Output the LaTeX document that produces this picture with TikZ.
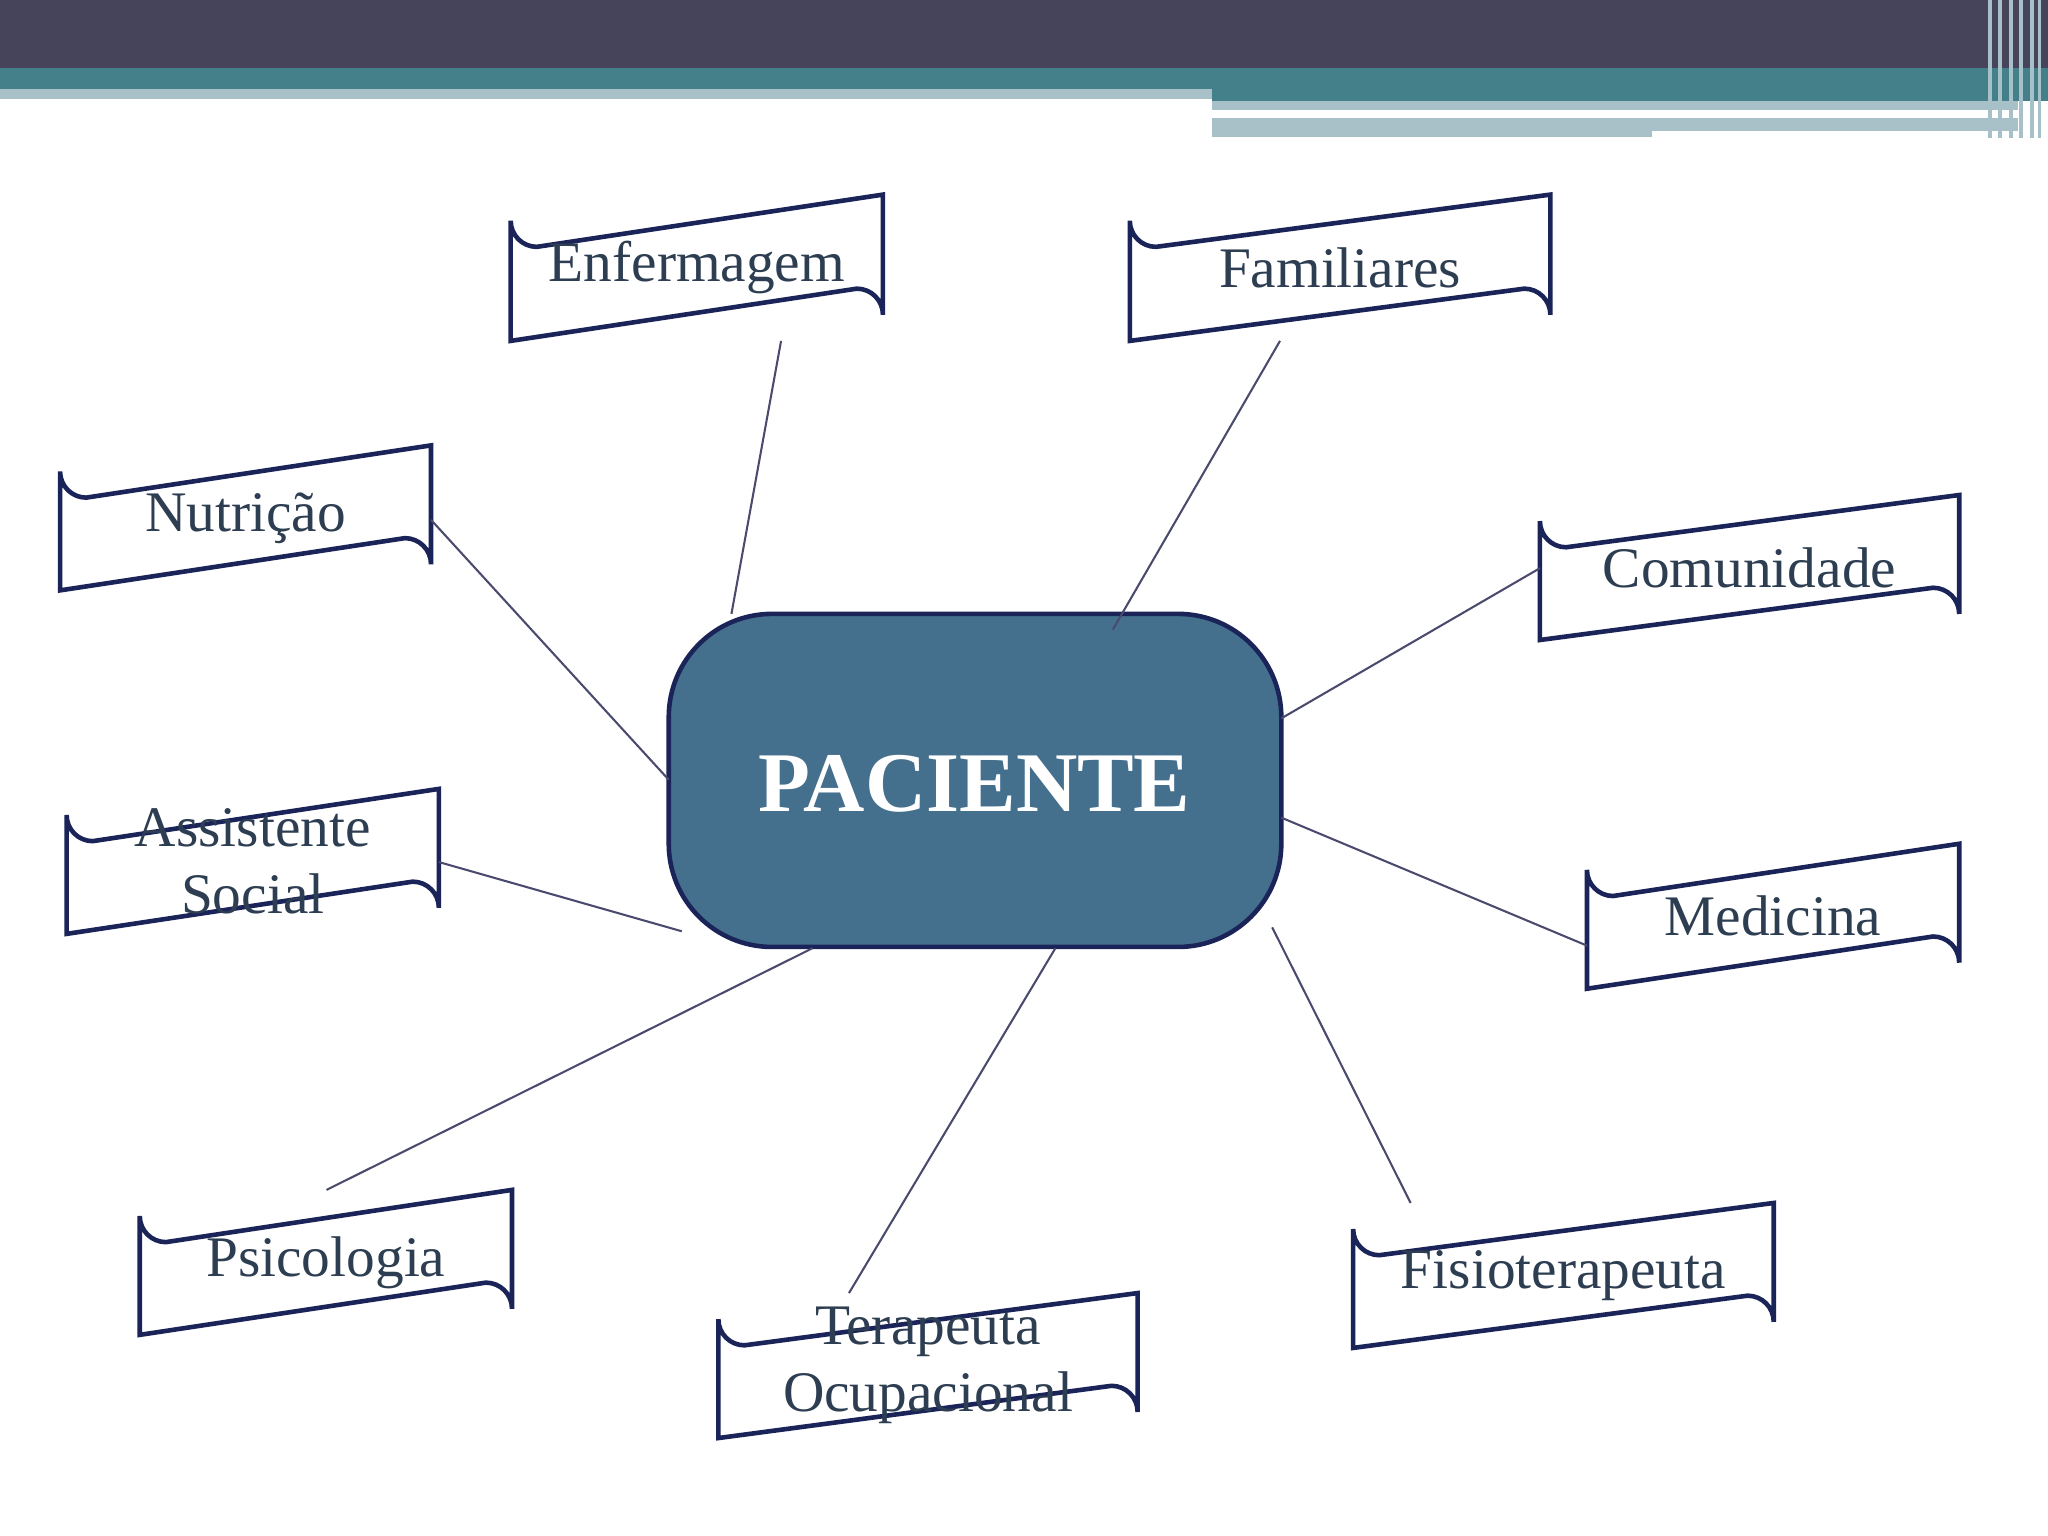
\documentclass[tikz,border=0pt]{standalone}
\usepackage{fontspec}
\setmainfont{Liberation Serif}
\definecolor{hdark}{HTML}{45445A}
\definecolor{hteal}{HTML}{44808A}
\definecolor{hlight}{HTML}{A8C0C8}
\definecolor{bord}{HTML}{1B2458}
\definecolor{txt}{HTML}{2E3E52}
\definecolor{pac}{HTML}{44708E}
\definecolor{lnk}{HTML}{4A4A6E}
\tikzset{
  lbl/.style={text=txt,font=\fontsize{25}{29}\selectfont,align=center,inner sep=0pt},
  link/.style={draw=lnk,line width=0.9pt},
  boxline/.style={draw=bord,line width=2pt}
}
\newcommand{\bx}[6]{%
  \draw[boxline] (#2,#5) -- (#2,#3+20) arc[start angle=180,end angle=90,radius=20] -- (#4,#3) -- (#4,#5-20) arc[start angle=0,end angle=-90,radius=20] -- cycle;
  \node[lbl] (#1) at ({(#2+#4)/2},{(#3+#5)/2}) {#6};}
\begin{document}
\begin{tikzpicture}[x=0.02cm,y=-0.02cm]
\useasboundingbox (0,0) rectangle (1568,1176);
\fill[white] (0,0) rectangle (1568,1176);
% header
\fill[hdark] (0,0) rectangle (1568,52);
\fill[hteal] (0,52) rectangle (1568,68);
\fill[hlight] (0,68) rectangle (928,76);
\fill[hteal] (928,68) rectangle (1568,77);
\fill[hlight] (928,77) rectangle (1545,84);
\fill[hlight] (928,90) rectangle (1545,105);
\fill[white] (1265,100) rectangle (1545,106);
\foreach \x in {1522,1530,1538,1546,1554,1560}{\fill[hlight] (\x,0) rectangle (\x+3,106);}
% center
\draw[draw=bord,line width=2pt,fill=pac,rounded corners=45] (512,470) rectangle (981,725);
\node[text=white,font=\bfseries\fontsize{37}{40}\selectfont] (pc) at (746,600) {PACIENTE};
% boxes
\bx{enf}{391}{149}{676}{261}{Enfermagem}
\bx{fam}{865}{149}{1187}{261}{Familiares}
\bx{nut}{46}{341}{330}{452}{Nutrição}
\bx{com}{1179}{379}{1500}{490}{Comunidade}
\bx{ass}{51}{604}{336}{715}{Assistente\\Social}
\bx{med}{1215}{646}{1500}{757}{Medicina}
\bx{psi}{107}{911}{392}{1022}{Psicologia}
\bx{ter}{550}{990}{871}{1101}{Terapeuta\\Ocupacional}
\bx{fis}{1036}{921}{1358}{1032}{Fisioterapeuta}
% connector endpoints
\coordinate (a1) at (598,261); \coordinate (b1) at (560,470);
\coordinate (a2) at (980,261); \coordinate (b2) at (852,482);
\coordinate (a3) at (330,398); \coordinate (b3) at (512,597);
\coordinate (a4) at (1179,435); \coordinate (b4) at (981,550);
\coordinate (a5) at (336,660); \coordinate (b5) at (522,713);
\coordinate (a6) at (1215,724); \coordinate (b6) at (981,626);
\coordinate (a7) at (250,911); \coordinate (b7) at (622,726);
\coordinate (a8) at (650,990); \coordinate (b8) at (808,726);
\coordinate (a9) at (1080,921); \coordinate (b9) at (974,710);
\foreach \i in {1,...,9}{\draw[link] (a\i) -- (b\i);}
\end{tikzpicture}
\end{document}
